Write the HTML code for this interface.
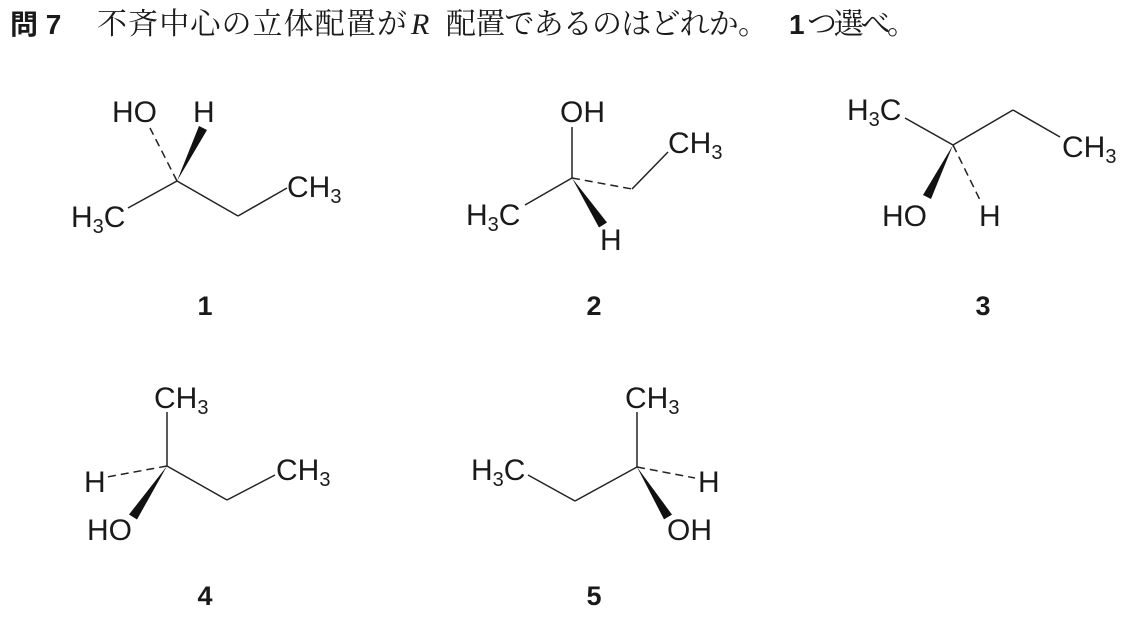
<!DOCTYPE html>
<html><head><meta charset="utf-8"><style>
html,body{margin:0;padding:0;background:#fff;}
svg{display:block;}
.l{font-family:"Liberation Sans",sans-serif;font-size:30px;fill:#1a1a1a;}
.n{font-family:"Liberation Sans",sans-serif;font-size:27px;font-weight:bold;fill:#1a1a1a;}
.t{font-family:"Liberation Serif","Noto Serif CJK JP",serif;font-size:30px;fill:#1a1a1a;}
.b{font-family:"Liberation Sans","Noto Sans CJK JP",sans-serif;font-size:28px;font-weight:bold;fill:#1a1a1a;}
line{stroke:#222;stroke-width:1.5;}
.d{stroke-dasharray:8,5;}
polygon{fill:#111;}
</style></head><body>
<svg width="1148" height="633" viewBox="0 0 1148 633" xmlns="http://www.w3.org/2000/svg">
<text class="b" x="10" y="34">問 7</text>
<text class="t" x="97" y="34" textLength="310">不斉中心の立体配置が</text>
<text class="t" x="411" y="34" font-style="italic">R</text>
<text class="t" x="446" y="34" textLength="322">配置であるのはどれか。</text>
<text class="b" x="789" y="34">1</text>
<text class="t" x="807" y="34" textLength="110">つ選べ。</text>

<!-- 1 -->
<line x1="177" y1="181" x2="128" y2="208"/>
<line x1="177" y1="181" x2="238" y2="216"/>
<line x1="238" y1="216" x2="287" y2="188"/>
<line class="d" x1="177" y1="181" x2="150" y2="128"/>
<polygon points="177,181 207,130 199,126"/>
<text class="l" x="112" y="122">HO</text>
<text class="l" x="193" y="122">H</text>
<text class="l" x="71" y="227">H<tspan font-size="20" dy="6">3</tspan><tspan dy="-6">C</tspan></text>
<text class="l" x="287" y="197">CH<tspan font-size="20" dy="6">3</tspan></text>
<text class="n" x="205" y="315" text-anchor="middle">1</text>

<!-- 2 -->
<line x1="572" y1="178" x2="572" y2="127"/>
<line x1="572" y1="178" x2="525" y2="205"/>
<line class="d" x1="572" y1="178" x2="632" y2="189"/>
<line x1="632" y1="189" x2="668" y2="152"/>
<polygon points="572,178 607,222.5 599,227.5"/>
<text class="l" x="560" y="122">OH</text>
<text class="l" x="466" y="225">H<tspan font-size="20" dy="6">3</tspan><tspan dy="-6">C</tspan></text>
<text class="l" x="668" y="153">CH<tspan font-size="20" dy="6">3</tspan></text>
<text class="l" x="600" y="250">H</text>
<text class="n" x="594" y="315" text-anchor="middle">2</text>

<!-- 3 -->
<line x1="953" y1="145" x2="905" y2="118"/>
<line x1="953" y1="145" x2="1013" y2="110"/>
<line x1="1013" y1="110" x2="1060" y2="137"/>
<line class="d" x1="953" y1="145" x2="980" y2="200"/>
<polygon points="953,145 931,199 923,195"/>
<text class="l" x="847" y="120">H<tspan font-size="20" dy="6">3</tspan><tspan dy="-6">C</tspan></text>
<text class="l" x="1062" y="157">CH<tspan font-size="20" dy="6">3</tspan></text>
<text class="l" x="882" y="226">HO</text>
<text class="l" x="979" y="226">H</text>
<text class="n" x="983" y="315" text-anchor="middle">3</text>

<!-- 4 -->
<line x1="167" y1="466" x2="167" y2="412"/>
<line x1="167" y1="466" x2="227" y2="500"/>
<line x1="227" y1="500" x2="275" y2="475"/>
<line class="d" x1="167" y1="466" x2="107" y2="477"/>
<polygon points="167,466 137,519.5 129,514.5"/>
<text class="l" x="154" y="408">CH<tspan font-size="20" dy="6">3</tspan></text>
<text class="l" x="276" y="480">CH<tspan font-size="20" dy="6">3</tspan></text>
<text class="l" x="84" y="492">H</text>
<text class="l" x="87" y="540">HO</text>
<text class="n" x="205" y="605" text-anchor="middle">4</text>

<!-- 5 -->
<line x1="637" y1="467" x2="637" y2="412"/>
<line x1="637" y1="467" x2="575" y2="501"/>
<line x1="575" y1="501" x2="528" y2="475"/>
<line class="d" x1="637" y1="467" x2="695" y2="478"/>
<polygon points="637,467 672,514.6 664,519.4"/>
<text class="l" x="625" y="408">CH<tspan font-size="20" dy="6">3</tspan></text>
<text class="l" x="471" y="480">H<tspan font-size="20" dy="6">3</tspan><tspan dy="-6">C</tspan></text>
<text class="l" x="698" y="492">H</text>
<text class="l" x="667" y="540">OH</text>
<text class="n" x="594" y="605" text-anchor="middle">5</text>
</svg>
</body></html>
